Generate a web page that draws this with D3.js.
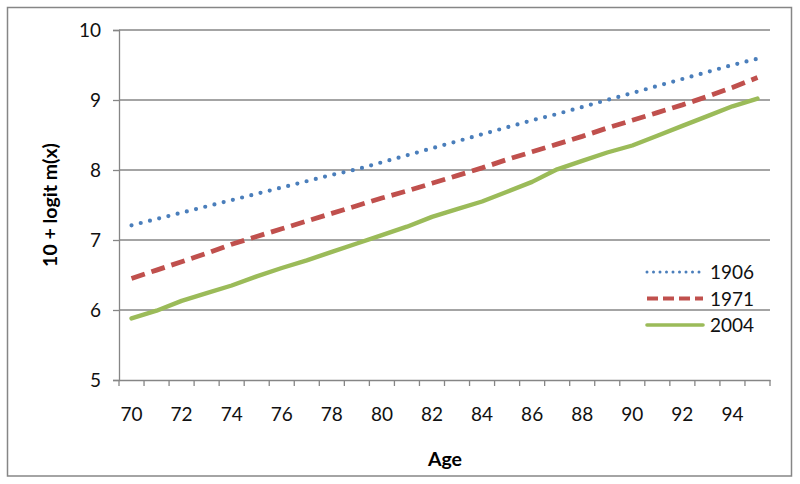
<!DOCTYPE html>
<html><head><meta charset="utf-8">
<script src="https://cdn.jsdelivr.net/npm/d3@7"></script>
<style>
body{margin:0;background:#fff;}
svg{display:block;font-family:Lato,"Open Sans",sans-serif;}
</style></head>
<body>
<svg id="chart" width="800" height="484"></svg>
<script>
const ages = d3.range(70, 96);
const s1906 = [7.21,7.30,7.39,7.48,7.57,7.66,7.75,7.84,7.93,8.01,8.11,8.21,8.31,8.41,8.51,8.61,8.71,8.80,8.90,9.00,9.10,9.20,9.30,9.40,9.50,9.59];
const s1971 = [6.45,6.57,6.69,6.81,6.94,7.05,7.16,7.27,7.38,7.49,7.60,7.70,7.81,7.92,8.03,8.15,8.26,8.37,8.48,8.60,8.71,8.82,8.93,9.05,9.18,9.32];
const s2004 = [5.88,5.99,6.13,6.24,6.35,6.48,6.60,6.71,6.83,6.95,7.07,7.19,7.33,7.44,7.55,7.69,7.83,8.01,8.13,8.25,8.35,8.49,8.63,8.77,8.91,9.02];
const xTickLabels = [70,72,74,76,78,80,82,84,86,88,90,92,94];
const yTicks = [5,6,7,8,9,10];
const seriesNames = ["1906","1971","2004"];
const seriesColors = ["#4a7ebb","#c0504d","#9bbb59"];

(function(){
const svg = d3.select("#chart");
const pL = 119, pR = 770, pT = 30, pB = 380;
const fs = 19;
const x = d3.scaleBand().domain(ages).range([pL, pR]).paddingInner(0).paddingOuter(0);
const y = d3.scaleLinear().domain([5, 10]).range([pB, pT]);
const grey = "#868686";

// outer border
svg.append("rect").attr("x", 7.5).attr("y", 7.5).attr("width", 784).attr("height", 468.5)
  .attr("fill", "none").attr("stroke", grey).attr("stroke-width", 1.5);

// gridlines
svg.append("g").selectAll("line").data(yTicks.filter(d => d > 5)).join("line")
  .attr("x1", pL).attr("x2", pR).attr("y1", d => y(d)).attr("y2", d => y(d))
  .attr("stroke", grey).attr("stroke-width", 1.3);

// y axis
const yAxis = d3.axisLeft(y).tickValues(yTicks).tickSize(6).tickPadding(12).tickFormat(d3.format("d"));
const gy = svg.append("g").attr("transform", `translate(${pL},0)`).call(yAxis);
gy.select(".domain").attr("stroke", grey).attr("stroke-width", 1.3);
gy.selectAll(".tick line").attr("stroke", grey).attr("stroke-width", 1.3);
gy.selectAll("text").attr("font-size", fs).attr("fill", "#111").attr("font-family", "Lato");

// x axis
const xAxis = d3.axisBottom(x).tickValues(xTickLabels).tickSize(0).tickPadding(28).tickSizeOuter(0);
const gx = svg.append("g").attr("transform", `translate(0,${pB})`).call(xAxis);
gx.select(".domain").attr("stroke", grey).attr("stroke-width", 1.3);
gx.selectAll("text").attr("font-size", fs).attr("fill", "#111").attr("font-family", "Lato");
// category boundary ticks
const bounds = ages.map(a => x(a)).concat([x(ages[ages.length-1]) + x.bandwidth()]);
svg.append("g").selectAll("line").data(bounds).join("line")
  .attr("x1", d => d).attr("x2", d => d).attr("y1", pB).attr("y2", pB + 6)
  .attr("stroke", grey).attr("stroke-width", 1.3);

// axis titles
svg.append("text").attr("transform", `translate(57,${(pT+pB)/2}) rotate(-90)`)
  .attr("text-anchor", "middle").attr("font-size", fs + 0.5).attr("font-weight", "bold").text("10 + logit m(x)");
svg.append("text").attr("x", 445).attr("y", 466).attr("text-anchor", "middle")
  .attr("font-size", fs + 0.5).attr("font-weight", "bold").text("Age");

// lines
const line = d3.line().x((d, i) => x(ages[i]) + x.bandwidth()/2).y(d => y(d));
const styles = [
  {w: 4.2, dash: "0 9.5", cap: "round"},
  {w: 4.8, dash: "14 7", cap: "butt"},
  {w: 4.4, dash: null, cap: "round"}
];
[s1906, s1971, s2004].forEach((s, k) => {
  svg.append("path").datum(s).attr("d", line).attr("fill", "none")
    .attr("stroke", seriesColors[k]).attr("stroke-width", styles[k].w)
    .attr("stroke-linecap", styles[k].cap).attr("stroke-linejoin", "round")
    .attr("stroke-dasharray", styles[k].dash);
});

// legend
const lg = svg.append("g");
seriesNames.forEach((n, k) => {
  const ly = 272 + k * 26.5;
  lg.append("line").attr("x1", 647).attr("x2", 703).attr("y1", ly).attr("y2", ly)
    .attr("stroke", seriesColors[k]).attr("stroke-width", k === 0 ? 3 : styles[k].w - 0.8)
    .attr("stroke-linecap", styles[k].cap)
    .attr("stroke-dasharray", k === 0 ? "0 6.5" : (k === 1 ? "11 5" : null));
  lg.append("text").attr("x", 710).attr("y", ly + 7).attr("font-size", fs).attr("fill", "#111").text(n);
});
})();
</script>
</body></html>
